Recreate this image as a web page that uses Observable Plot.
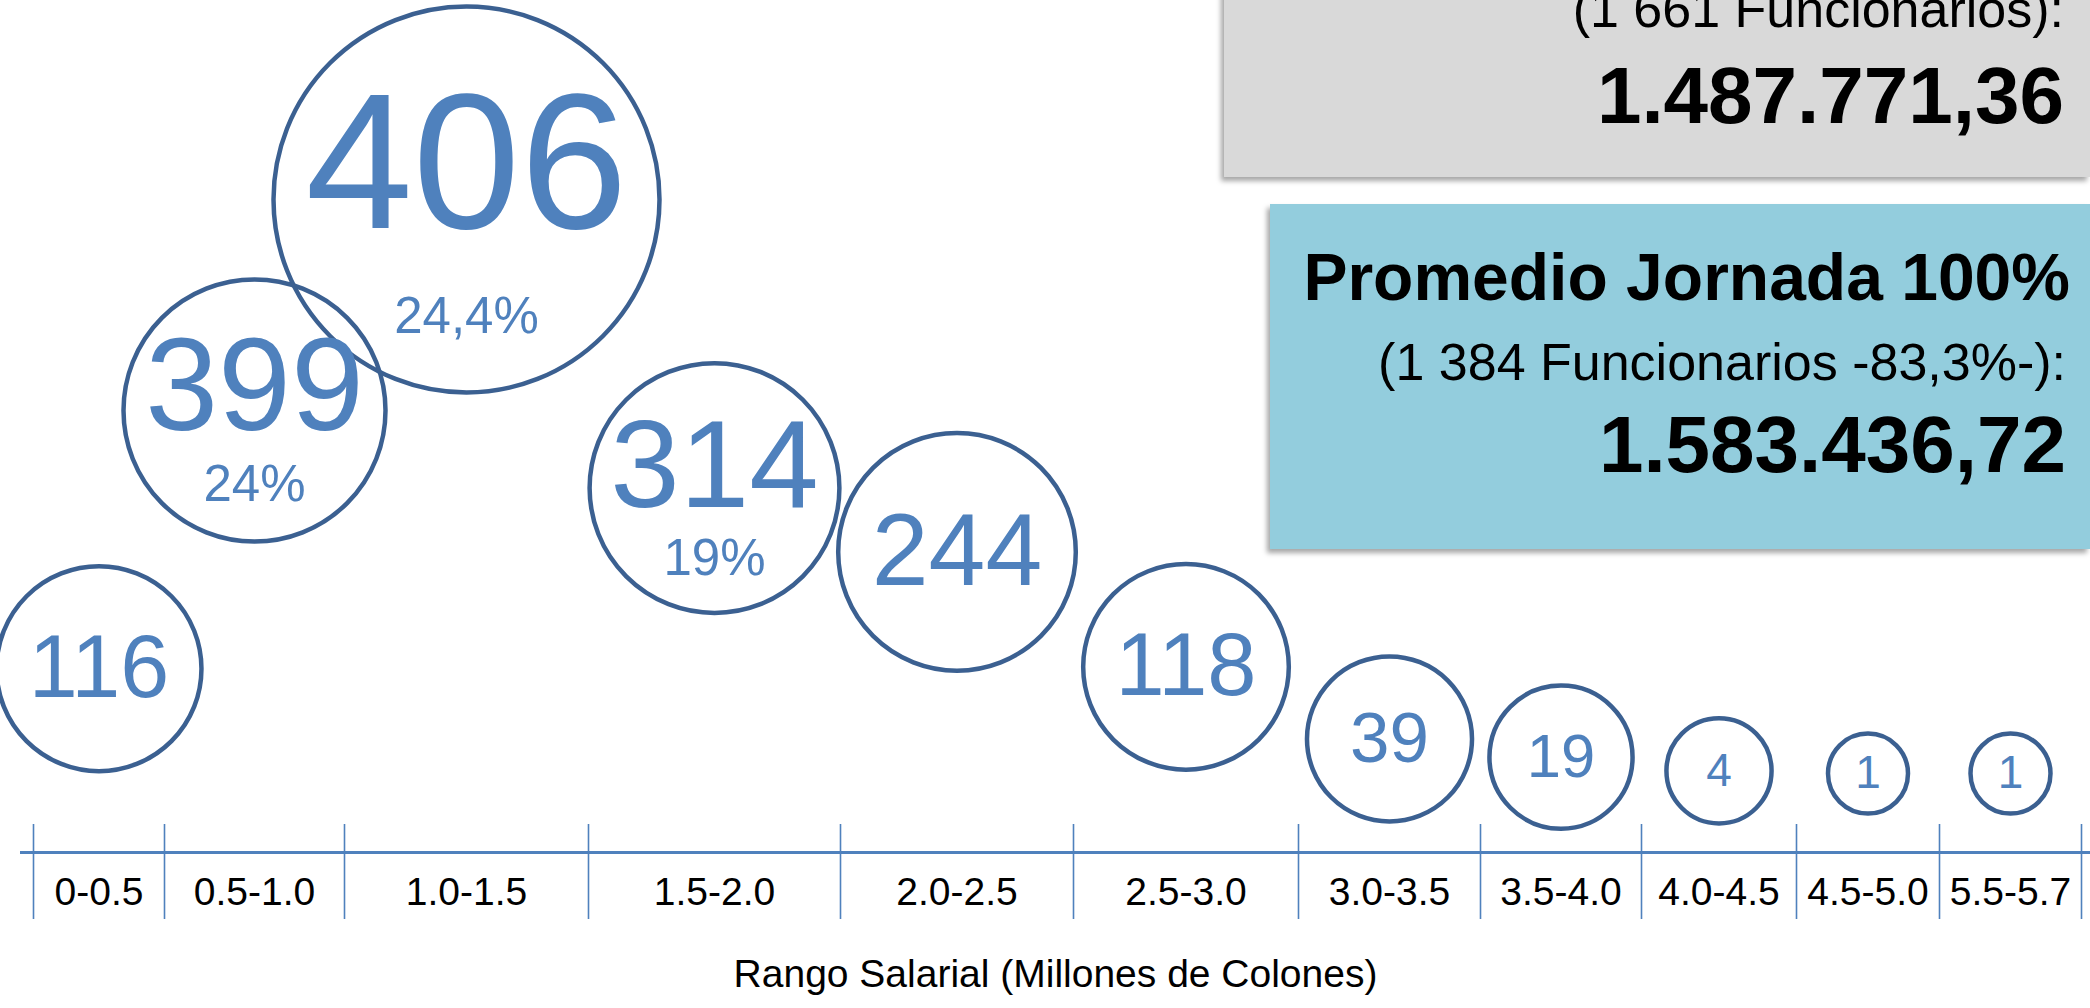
<!DOCTYPE html>
<html>
<head>
<meta charset="utf-8">
<script src="https://cdn.jsdelivr.net/npm/d3@7"></script>
<script src="https://cdn.jsdelivr.net/npm/@observablehq/plot@0.6"></script>
<style>
  html, body { margin: 0; padding: 0; background: #fff; overflow: hidden; }
  #wrap { position: relative; width: 2090px; height: 1008px; overflow: hidden;
          font-family: "Liberation Sans", Arial, sans-serif; }
  .box { position: absolute; }
  .t { position: absolute; white-space: nowrap; line-height: 1; color: #000; text-align: right; }
</style>
</head>
<body>
<div id="wrap"></div>
<script>
// ---------- data ----------
const categories = ["0-0.5", "0.5-1.0", "1.0-1.5", "1.5-2.0", "2.0-2.5", "2.5-3.0",
                    "3.0-3.5", "3.5-4.0", "4.0-4.5", "4.5-5.0", "5.5-5.7"];
const counts = [116, 399, 406, 314, 244, 118, 39, 19, 4, 1, 1];
const shares = [null, 24, 24.4, 19, null, null, null, null, null, null, null];
const axisTitle = "Rango Salarial (Millones de Colones)";

const generalStaff = "1 661";
const generalAverage = "1.487.771,36";
const fullTimeTitle = "Promedio Jornada 100%";
const fullTimeStaff = "1 384";
const fullTimeShare = "83,3";
const fullTimeAverage = "1.583.436,72";

// ---------- table ----------
const data = categories.map((category, i) => ({category, i, count: counts[i], share: shares[i]}));
const maxCount = d3.max(counts);
const runnerUp = d3.max(counts.filter(c => c < maxCount));
const mid = d => d.i + 0.5;
const fmtShare = v => String(v).replace(".", ",") + "%";

// ---------- scales ----------
const rOptions = {type: "pow", exponent: 0.2, domain: [1, runnerUp, maxCount], range: [40, 131, 193]};
const rScale = Plot.scale({r: rOptions});
const xOptions = {type: "linear", domain: d3.range(categories.length + 1),
                  range: [33, 164, 344, 588, 840, 1073, 1298, 1480, 1641, 1796, 1939, 2081]};
const yOptions = {type: "linear", domain: [0, runnerUp, maxCount], range: [774, 410, 199], axis: null};

const textBlue = "#4F81BD";
const ringBlue = "#3B6091";

const numberLabels = data.map(d => {
  const r = rScale.apply(d.count);
  const hasShare = d.share != null;
  return Plot.text([d], {
    x: mid, y: "count", text: d => String(d.count),
    fontSize: hasShare ? r : Math.max(46, 0.86 * r),
    dy: hasShare ? -0.17 * r : 0,
    fill: textBlue
  });
});
const shareLabels = data.filter(d => d.share != null).map(d => {
  const r = rScale.apply(d.count);
  return Plot.text([d], {
    x: mid, y: "count", text: d => fmtShare(d.share),
    fontSize: 51, dy: 0.69 * r - 16, fill: textBlue
  });
});

const chart = Plot.plot({
  width: 2090, height: 1008,
  marginTop: 0, marginLeft: 20, marginRight: 0, marginBottom: 184,
  style: {fontFamily: '"Liberation Sans", Arial, sans-serif', background: "transparent", color: "#000", overflow: "visible"},
  x: xOptions,
  y: yOptions,
  r: rOptions,
  marks: [
    Plot.ruleY([0], {dy: 78, stroke: "#4F81BD", strokeWidth: 3}),
    Plot.axisX({ticks: d3.range(categories.length + 1), tickSize: 95, tickFormat: () => "",
                stroke: "#4F81BD", strokeWidth: 1.6}),
    Plot.axisX({ticks: data.map(mid), tickSize: 0, tickPadding: 53,
                tickFormat: v => categories[Math.floor(v)], fontSize: 39, fill: "#000"}),
    Plot.text([axisTitle], {text: d => d, frameAnchor: "bottom", dy: 162.5, fontSize: 39, fill: "#000"}),
    Plot.dot(data, {x: mid, y: "count", r: "count", stroke: ringBlue, strokeWidth: 4.5, fill: "none"}),
    ...numberLabels,
    ...shareLabels
  ]
});

const wrap = document.getElementById("wrap");
wrap.append(chart);

// ---------- summary panels (annotation boxes, top right) ----------
function line(text, fs, baseline, rightEdge, bold) {
  const top = baseline - 0.8465 * fs;
  return `<div class="t" style="font-size:${fs}px;top:${top}px;right:${2090 - rightEdge}px;font-weight:${bold ? 700 : 400}">${text}</div>`;
}
wrap.insertAdjacentHTML("beforeend",
  `<div class="box" style="left:1224px;top:-20px;width:866px;height:197px;background:#D9D9D9;box-shadow:-3px 4px 5px rgba(0,0,0,.35)"></div>` +
  line(`(${generalStaff} Funcionarios):`, 52, 27, 2064, false) +
  line(generalAverage, 80, 124, 2064, true) +
  `<div class="box" style="left:1270px;top:204px;width:820px;height:345px;background:#93CDDD;box-shadow:-3px 4px 5px rgba(0,0,0,.35)"></div>` +
  line(fullTimeTitle, 66, 300, 2070, true) +
  line(`(${fullTimeStaff} Funcionarios -${fullTimeShare}%-):`, 52, 380, 2066, false) +
  line(fullTimeAverage, 80, 473, 2066, true)
);
</script>
</body>
</html>
